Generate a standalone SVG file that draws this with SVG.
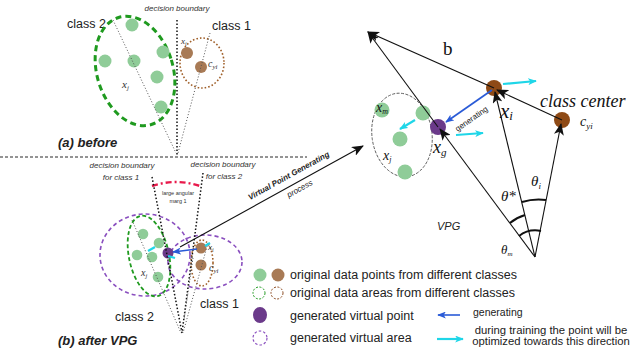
<svg xmlns="http://www.w3.org/2000/svg" width="640" height="362" viewBox="0 0 640 362">
<style>
.sans{font-family:"Liberation Sans",Arial,sans-serif}
.serif{font-family:"Liberation Serif","Times New Roman",serif}
.it{font-style:italic}
.bd{font-weight:bold}
.gpt{fill:#8fcc98}
.bpt{fill:#a87a55}
.bpt2{fill:#8e4a16}
.ppt{fill:#6b3a8a}
.gdash{fill:none;stroke:#1f9a1f;stroke-width:3;stroke-dasharray:6 4}
.gdash2{fill:none;stroke:#1f9a1f;stroke-width:1.8;stroke-dasharray:4 2.5}
.bdot{fill:none;stroke:#a0602a;stroke-width:1.6;stroke-dasharray:1.6 2}
.pdash{fill:none;stroke:#8a4fbf;stroke-width:1.6;stroke-dasharray:4 3}
.kdot{fill:none;stroke:#111;stroke-width:1.5;stroke-dasharray:1.5 2}
.gdot{fill:none;stroke:#555;stroke-width:1;stroke-dasharray:1 2}
.vec{fill:none;stroke:#111;stroke-width:1.1}
.blue{fill:none;stroke:#2a5bd7;stroke-width:1.6}
.cyan{fill:none;stroke:#1fd6e8;stroke-width:2.2}
.arc{fill:none;stroke:#111;stroke-width:2}
</style>
<defs>
<marker id="ah" viewBox="0 0 12 10" refX="11" refY="5" markerWidth="12" markerHeight="10" markerUnits="userSpaceOnUse" orient="auto">
<path d="M0,0 L12,5 L0,10 L3,5 z" fill="#111"/>
</marker>
<marker id="ahb" viewBox="0 0 10 8" refX="9" refY="4" markerWidth="9" markerHeight="7" markerUnits="userSpaceOnUse" orient="auto">
<path d="M0,0 L10,4 L0,8 L2.5,4 z" fill="#2a5bd7"/>
</marker>
<marker id="ahc" viewBox="0 0 10 8" refX="9" refY="4" markerWidth="9" markerHeight="7" markerUnits="userSpaceOnUse" orient="auto">
<path d="M0,0 L10,4 L0,8 L2.5,4 z" fill="#1fd6e8"/>
</marker>
</defs>
<rect width="640" height="362" fill="#fff"/>

<!-- (a) before -->
<g id="panel-a">
<text class="sans it" x="177" y="11" font-size="8" text-anchor="middle" fill="#333">decision boundary</text>
<line class="kdot" x1="177" y1="20" x2="177" y2="155"/>
<line x1="0" y1="157" x2="307" y2="157" stroke="#111" stroke-width="0.9" stroke-dasharray="3 2"/>
<text class="sans" x="67" y="28" font-size="12.5" fill="#222">class 2</text>
<text class="sans" x="212" y="30" font-size="12.5" fill="#222">class 1</text>
<g id="a-class2">
<ellipse class="gdash" cx="135" cy="71" rx="38" ry="56" transform="rotate(-17 135 71)"/>
<circle class="gpt" cx="132" cy="25" r="6.5"/>
<circle class="gpt" cx="163" cy="52" r="6.5"/>
<circle class="gpt" cx="105" cy="61" r="6.5"/>
<circle class="gpt" cx="134" cy="61" r="6.5"/>
<circle class="gpt" cx="157" cy="77" r="6.5"/>
<circle class="gpt" cx="161" cy="107" r="6.5"/>
<text class="serif it" x="122" y="88" font-size="11" fill="#333">x<tspan font-size="7" dy="2">j</tspan></text>
</g>
<g id="a-class1">
<ellipse class="bdot" cx="202" cy="63" rx="22" ry="25"/>
<circle class="bpt" cx="187" cy="53" r="6"/>
<circle class="bpt" cx="201" cy="67" r="6"/>
<text class="serif it" x="181" y="44" font-size="9" fill="#333">x<tspan font-size="6" dy="2">i</tspan></text>
<text class="serif it" x="208" y="67" font-size="10" fill="#333">c<tspan font-size="7" dy="2">yi</tspan></text>
</g>
<line class="gdot" x1="113" y1="20" x2="176" y2="153"/>
<line class="gdot" x1="210" y1="33" x2="178" y2="153"/>
<text class="sans it bd" x="58" y="147" font-size="13" fill="#222">(a) before</text>
</g>

<!-- (b) after VPG -->
<g id="panel-b">
<text class="sans it" x="122" y="168" font-size="8" text-anchor="middle" fill="#333">decision boundary</text>
<text class="sans it" x="121" y="180" font-size="8" text-anchor="middle" fill="#333">for class 1</text>
<text class="sans it" x="223" y="167" font-size="8" text-anchor="middle" fill="#333">decision boundary</text>
<text class="sans it" x="224" y="179" font-size="8" text-anchor="middle" fill="#333">for class 2</text>
<path d="M152,186 Q176,178 200,186" fill="none" stroke="#e8194b" stroke-width="2.4" stroke-dasharray="6 3 2 3"/>
<text class="sans" x="178" y="195" font-size="5.5" text-anchor="middle" fill="#333">large angular</text>
<text class="sans" x="178" y="203" font-size="5.5" text-anchor="middle" fill="#333">marg 1</text>
<g id="b-areas">
<ellipse class="pdash" cx="145" cy="255" rx="45" ry="41"/>
<ellipse class="pdash" cx="205" cy="262" rx="37" ry="27"/>
<ellipse class="gdash2" cx="149" cy="256" rx="20" ry="41" transform="rotate(-12 149 256)"/>
<ellipse class="bdot" cx="202" cy="263" rx="11" ry="23"/>
</g>
<g id="b-class2">
<circle class="gpt" cx="143" cy="234" r="5.3"/>
<circle class="gpt" cx="159" cy="243" r="5.3"/>
<circle class="gpt" cx="137" cy="255" r="5.3"/>
<circle class="gpt" cx="152" cy="257" r="5.3"/>
<circle class="gpt" cx="158" cy="277" r="5.3"/>
<text class="serif it" x="141" y="276" font-size="10" fill="#333">x<tspan font-size="6.5" dy="2">j</tspan></text>
</g>
<g id="b-virtual">
<circle class="ppt" cx="168" cy="253" r="5.5"/>
</g>
<g id="b-class1">
<circle class="bpt" cx="201" cy="248" r="5.5"/>
<circle class="bpt" cx="201" cy="265" r="5.5"/>
<text class="serif it" x="208" y="250" font-size="9" fill="#333">x<tspan font-size="6" dy="2">i</tspan></text>
<text class="serif it" x="209" y="271" font-size="10" fill="#333">c<tspan font-size="7" dy="2">yi</tspan></text>
</g>
<line class="kdot" x1="152" y1="177" x2="182" y2="333"/>
<line class="kdot" x1="203" y1="173" x2="182" y2="333"/>
<line class="gdot" x1="132" y1="220" x2="181" y2="333"/>
<line class="gdot" x1="208" y1="243" x2="183" y2="333"/>
<line class="gdot" x1="193" y1="258" x2="184" y2="320"/>
<line x1="197" y1="249" x2="173" y2="252" class="blue" marker-end="url(#ahb)"/>
<line x1="148" y1="251" x2="155" y2="247" class="cyan" stroke-width="1.5"/>
<line x1="168" y1="256" x2="175" y2="258" class="cyan" stroke-width="1.5"/>
<line x1="205" y1="246" x2="210" y2="243" class="cyan" stroke-width="1.5"/>
<text class="sans" x="200" y="308" font-size="12.5" fill="#222">class 1</text>
<text class="sans" x="115" y="321" font-size="12.5" fill="#222">class 2</text>
<text class="sans it bd" x="58" y="345" font-size="13" fill="#222">(b) after VPG</text>
</g>

<!-- VPG process arrow label -->
<g id="vpg-label">
<text class="sans it bd" font-size="8" fill="#222" text-anchor="middle" transform="translate(290 178) rotate(-29)">Virtual Point Generating</text>
<text class="sans it" font-size="8" fill="#222" text-anchor="middle" transform="translate(301 191) rotate(-29)">process</text>
</g>

<!-- right panel -->
<g id="right-cluster">
<ellipse cx="402" cy="135" rx="30" ry="42" transform="rotate(-8 402 135)" fill="none" stroke="#555" stroke-width="0.9" stroke-dasharray="3 1.5"/>
<circle class="gpt" cx="382" cy="110" r="7.5"/>
<circle class="gpt" cx="423" cy="113" r="7.5"/>
<circle class="gpt" cx="400" cy="139" r="7.5"/>
<circle class="gpt" cx="405" cy="172" r="7.5"/>
<text class="serif it" x="376" y="112" font-size="14" fill="#111">x<tspan font-size="8" dy="2">m</tspan></text>
<text class="serif it" x="383" y="160" font-size="14" fill="#111">x<tspan font-size="8" dy="2">j</tspan></text>
</g>
<g id="xg">
<circle class="ppt" cx="438" cy="127" r="8"/>
<text class="serif it" x="433" y="153" font-size="18" fill="#111">x<tspan font-size="11" dy="3">g</tspan></text>
</g>
<g id="xi">
<circle class="bpt2" cx="494" cy="88" r="8"/>
<text class="serif it" x="500" y="118" font-size="21" fill="#111">x<tspan font-size="13" dy="2">i</tspan></text>
</g>
<g id="cyi">
<circle class="bpt2" cx="562" cy="120" r="8"/>
<text class="serif it" x="540" y="107" font-size="18" fill="#111">class center</text>
<text class="serif it" x="580" y="126" font-size="14" fill="#111">c<tspan font-size="9" dy="3">yi</tspan></text>
</g>
<g id="origin">
<text class="serif" x="443" y="55" font-size="19" fill="#111">b</text>
<text class="sans it" x="437" y="230" font-size="11" fill="#222">VPG</text>
<path class="arc" d="M522,202 A57,57 0 0 1 546,200"/>
<path class="arc" d="M510,223 A43,43 0 0 1 525,215"/>
<path class="arc" d="M519,236 A27,27 0 0 1 541,231"/>
<text class="serif it" x="531" y="186" font-size="15" fill="#111">θ<tspan font-size="9" dy="3">i</tspan></text>
<text class="serif it" x="501" y="201" font-size="15" fill="#111">θ*</text>
<text class="serif it" x="501" y="254" font-size="13" fill="#111">θ<tspan font-size="7" dy="2">m</tspan></text>
</g>

<!-- connectors -->
<g id="connectors">
<line class="vec" x1="180" y1="247" x2="363" y2="146" stroke-width="1.3" marker-end="url(#ah)"/>
<line class="vec" x1="535" y1="257" x2="440" y2="129" marker-end="url(#ah)"/>
<line class="vec" x1="438" y1="127" x2="368" y2="32" marker-end="url(#ah)"/>
<line class="vec" x1="535" y1="257" x2="495" y2="92" marker-end="url(#ah)"/>
<line class="vec" x1="535" y1="257" x2="561" y2="124" marker-end="url(#ah)"/>
<line class="vec" x1="562" y1="120" x2="497" y2="90" marker-end="url(#ah)"/>
<line class="vec" x1="494" y1="88" x2="368" y2="32" marker-end="url(#ah)"/>
<line class="blue" x1="492" y1="90" x2="446" y2="122" marker-end="url(#ahb)"/>
<text class="sans" font-size="8" fill="#222" text-anchor="middle" transform="translate(473 121) rotate(-35)">generating</text>
<line class="cyan" x1="503" y1="84" x2="536" y2="81" marker-end="url(#ahc)"/>
<line class="cyan" x1="456" y1="135" x2="483" y2="133" marker-end="url(#ahc)"/>
<line class="cyan" x1="415" y1="120" x2="400" y2="129" marker-end="url(#ahc)"/>
</g>

<!-- legend -->
<g id="legend">
<circle class="gpt" cx="260" cy="275" r="6.5"/>
<circle class="bpt" cx="278" cy="275" r="6.5"/>
<text class="sans" x="290" y="279" font-size="12.5" fill="#222">original data points from different classes</text>
<circle cx="259" cy="293" r="6" fill="none" stroke="#1f9a1f" stroke-width="1" stroke-dasharray="2 1.5"/>
<circle cx="277" cy="293" r="6" fill="none" stroke="#8b4a20" stroke-width="1" stroke-dasharray="2 1.5"/>
<text class="sans" x="290" y="297" font-size="12.5" fill="#222">original data areas from different classes</text>
<ellipse class="ppt" cx="260" cy="315" rx="7" ry="8"/>
<text class="sans" x="290" y="320" font-size="12.5" fill="#222">generated virtual point</text>
<line class="blue" x1="460" y1="315" x2="438" y2="315" marker-end="url(#ahb)"/>
<text class="sans" x="473" y="316" font-size="10.5" fill="#222">generating</text>
<circle cx="260" cy="338" r="7" fill="none" stroke="#8a4fbf" stroke-width="1.2" stroke-dasharray="2.5 2"/>
<text class="sans" x="290" y="342" font-size="12.5" fill="#222">generated virtual area</text>
<line class="cyan" x1="437" y1="339" x2="463" y2="339" marker-end="url(#ahc)"/>
<text class="sans" x="551" y="334" font-size="11.3" text-anchor="middle" fill="#222">during training the point will be</text>
<text class="sans" x="551" y="345" font-size="11.3" text-anchor="middle" fill="#222">optimized towards this direction</text>
</g>
</svg>
